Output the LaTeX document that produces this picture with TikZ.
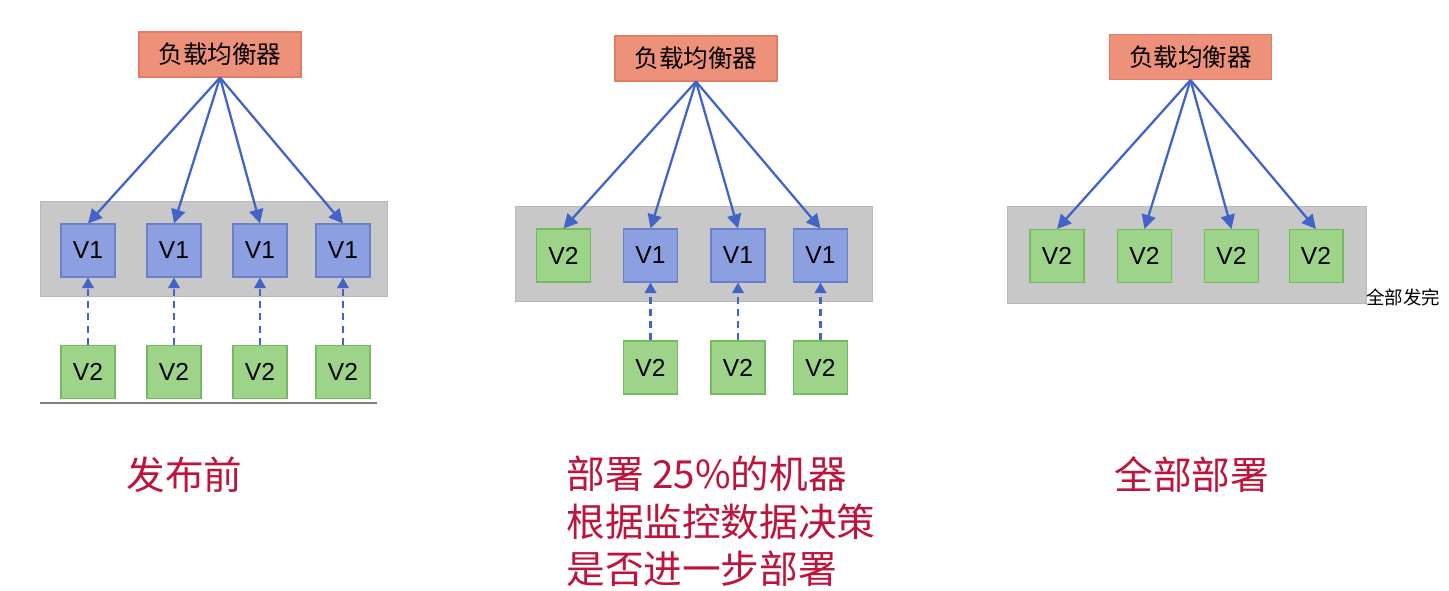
\documentclass[tikz,border=0pt]{standalone}
\usepackage{fontspec}
\setmainfont{Liberation Sans}
\newfontfamily\cjk{Noto Sans CJK SC}
\usetikzlibrary{arrows.meta,positioning}
\definecolor{lbfill}{RGB}{238,145,122}
\definecolor{lbdraw}{RGB}{228,125,100}
\definecolor{vonefill}{RGB}{140,159,224}
\definecolor{vonedraw}{RGB}{107,128,204}
\definecolor{vtwofill}{RGB}{158,212,138}
\definecolor{vtwodraw}{RGB}{118,186,96}
\definecolor{bandgray}{RGB}{200,200,200}
\definecolor{banddraw}{RGB}{184,184,184}
\definecolor{arrowblue}{RGB}{66,100,200}
\definecolor{notered}{RGB}{190,20,60}
\tikzset{
    lbbox/.style={
        draw=lbdraw, fill=lbfill, line width=0.6pt,
        minimum width=3.24cm, minimum height=0.9cm,
        font=\cjk\fontsize{14}{16}\selectfont
    },
    % V1 / V2 server boxes
    vone/.style={
        draw=vonedraw, fill=vonefill, line width=0.6pt,
        minimum width=1.08cm, minimum height=1.06cm,
        font=\fontsize{14}{16}\selectfont
    },
    vtwo/.style={vone, draw=vtwodraw, fill=vtwofill},
    band/.style={draw=banddraw, fill=bandgray, line width=0.5pt},
    bluearrow/.style={
        line width=1.3pt, arrowblue,
        -{Triangle[length=8pt, width=8pt]}
    },
    dasharrow/.style={
        line width=1.3pt, arrowblue, dash pattern=on 4pt off 3pt,
        -{Triangle[length=6pt, width=6.5pt]}
    },
    notetext/.style={
        text=notered, anchor=north west, inner sep=0pt, align=left,
        font=\cjk\fontsize{22}{26.8}\selectfont
    }
}
\begin{document}
\begin{tikzpicture}[x=0.02cm, y=-0.02cm]
    \useasboundingbox (0,0) rectangle (1449,591);
    % panel 1
    \draw[band] (40,201) rectangle (387,296);
    \draw[line width=0.6pt, gray] (40,403) -- (377,403);
    \node[lbbox] (lba) at (220,54.5) {负载均衡器};
    \node[vone] (a1) at (88,250.5) {V1};
    \node[vone] (a2) at (174,250.5) {V1};
    \node[vone] (a3) at (260,250.5) {V1};
    \node[vone] (a4) at (343,250.5) {V1};
    \node[vtwo] (b1) at (88,372) {V2};
    \node[vtwo] (b2) at (174,372) {V2};
    \node[vtwo] (b3) at (260,372) {V2};
    \node[vtwo] (b4) at (343,372) {V2};
    \draw[bluearrow] (lba.south) to (a1.north);
    \draw[bluearrow] (lba.south) to (a2.north);
    \draw[bluearrow] (lba.south) to (a3.north);
    \draw[bluearrow] (lba.south) to (a4.north);
    \draw[dasharrow] (b1) to (a1);
    \draw[dasharrow] (b2) to (a2);
    \draw[dasharrow] (b3) to (a3);
    \draw[dasharrow] (b4) to (a4);
    \node[notetext] (ta) at (126,456) {发布前};

    % panel 2
    \draw[band] (515,206) rectangle (872,301);
    \node[lbbox] (lbb) at (696,58.5) {负载均衡器};
    \node[vtwo] (c1) at (563.5,255.5) {V2};
    \node[vone] (c2) at (650.5,255.5) {V1};
    \node[vone] (c3) at (738,255.5) {V1};
    \node[vone] (c4) at (820.5,255.5) {V1};
    \node[vtwo] (d2) at (650.5,367.5) {V2};
    \node[vtwo] (d3) at (738,367.5) {V2};
    \node[vtwo] (d4) at (820.5,367.5) {V2};
    \draw[bluearrow] (lbb.south) to (c1.north);
    \draw[bluearrow] (lbb.south) to (c2.north);
    \draw[bluearrow] (lbb.south) to (c3.north);
    \draw[bluearrow] (lbb.south) to (c4.north);
    \draw[dasharrow] (d2) to (c2);
    \draw[dasharrow] (d3) to (c3);
    \draw[dasharrow] (d4) to (c4);
    \node[notetext] (tb) at (566,456) {部署 25\%的机器\\根据监控数据决策\\是否进一步部署};

    % panel 3
    \draw[band] (1007,206) rectangle (1366,303);
    \node[lbbox] (lbc) at (1190.5,57) {负载均衡器};
    \node[vtwo] (e1) at (1057,256) {V2};
    \node[vtwo] (e2) at (1144.5,256) {V2};
    \node[vtwo] (e3) at (1231.5,256) {V2};
    \node[vtwo] (e4) at (1316,256) {V2};
    \draw[bluearrow] (lbc.south) to (e1.north);
    \draw[bluearrow] (lbc.south) to (e2.north);
    \draw[bluearrow] (lbc.south) to (e3.north);
    \draw[bluearrow] (lbc.south) to (e4.north);
    \node[font=\cjk\fontsize{10.5}{12}\selectfont, anchor=west, inner sep=0pt] (done) at (1366,297) {全部发完};
    \node[notetext] (tc) at (1114,456) {全部部署};
\end{tikzpicture}
\end{document}
